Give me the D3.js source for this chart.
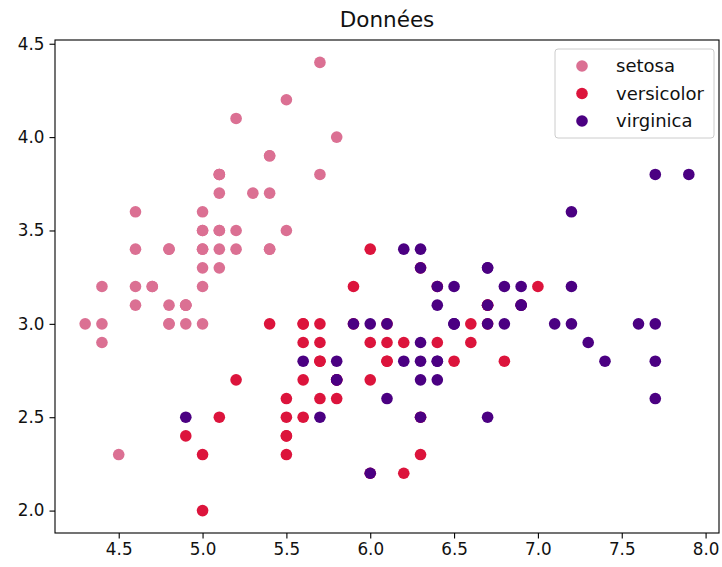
<!DOCTYPE html>
<html>
<head>
<meta charset="utf-8">
<script src="https://cdn.jsdelivr.net/npm/d3@7"></script>
<style>
  body { margin: 0; background: #fff; }
  svg { font-family: "DejaVu Sans", sans-serif; }
  .axis path, .axis line { stroke: #000; stroke-width: 1.1; }
  .axis text { font-size: 16.8px; fill: #111; }
</style>
</head>
<body>
<div id="chart"></div>
<script>
// Iris: sepal length (x) vs sepal width (y)
var species = ["setosa", "versicolor", "virginica"];
var speciesColors = ["#db7093", "#dc143c", "#4b0082"];

var setosaLength = [5.1, 4.9, 4.7, 4.6, 5.0, 5.4, 4.6, 5.0, 4.4, 4.9, 5.4, 4.8, 4.8, 4.3, 5.8, 5.7, 5.4, 5.1, 5.7, 5.1, 5.4, 5.1, 4.6, 5.1, 4.8, 5.0, 5.0, 5.2, 5.2, 4.7, 4.8, 5.4, 5.2, 5.5, 4.9, 5.0, 5.5, 4.9, 4.4, 5.1, 5.0, 4.5, 4.4, 5.0, 5.1, 4.8, 5.1, 4.6, 5.3, 5.0];
var setosaWidth = [3.5, 3.0, 3.2, 3.1, 3.6, 3.9, 3.4, 3.4, 2.9, 3.1, 3.7, 3.4, 3.0, 3.0, 4.0, 4.4, 3.9, 3.5, 3.8, 3.8, 3.4, 3.7, 3.6, 3.3, 3.4, 3.0, 3.4, 3.5, 3.4, 3.2, 3.1, 3.4, 4.1, 4.2, 3.1, 3.2, 3.5, 3.1, 3.0, 3.4, 3.5, 2.3, 3.2, 3.5, 3.8, 3.0, 3.8, 3.2, 3.7, 3.3];

var versicolorLength = [7.0, 6.4, 6.9, 5.5, 6.5, 5.7, 6.3, 4.9, 6.6, 5.2, 5.0, 5.9, 6.0, 6.1, 5.6, 6.7, 5.6, 5.8, 6.2, 5.6, 5.9, 6.1, 6.3, 6.1, 6.4, 6.6, 6.8, 6.7, 6.0, 5.7, 5.5, 5.5, 5.8, 6.0, 5.4, 6.0, 6.7, 6.3, 5.6, 5.5, 5.5, 6.1, 5.8, 5.0, 5.6, 5.7, 5.7, 6.2, 5.1, 5.7];
var versicolorWidth = [3.2, 3.2, 3.1, 2.3, 2.8, 2.8, 3.3, 2.4, 2.9, 2.7, 2.0, 3.0, 2.2, 2.9, 2.9, 3.1, 3.0, 2.7, 2.2, 2.5, 3.2, 2.8, 2.5, 2.8, 2.9, 3.0, 2.8, 3.0, 2.9, 2.6, 2.4, 2.4, 2.7, 2.7, 3.0, 3.4, 3.1, 2.3, 3.0, 2.5, 2.6, 3.0, 2.6, 2.3, 2.7, 3.0, 2.9, 2.9, 2.5, 2.8];

var virginicaLength = [6.3, 5.8, 7.1, 6.3, 6.5, 7.6, 4.9, 7.3, 6.7, 7.2, 6.5, 6.4, 6.8, 5.7, 5.8, 6.4, 6.5, 7.7, 7.7, 6.0, 6.9, 5.6, 7.7, 6.3, 6.7, 7.2, 6.2, 6.1, 6.4, 7.2, 7.4, 7.9, 6.4, 6.3, 6.1, 7.7, 6.3, 6.4, 6.0, 6.9, 6.7, 6.9, 5.8, 6.8, 6.7, 6.7, 6.3, 6.5, 6.2, 5.9];
var virginicaWidth = [3.3, 2.7, 3.0, 2.9, 3.0, 3.0, 2.5, 2.9, 2.5, 3.6, 3.2, 2.7, 3.0, 2.5, 2.8, 3.2, 3.0, 3.8, 2.6, 2.2, 3.2, 2.8, 2.8, 2.7, 3.3, 3.2, 2.8, 3.0, 2.8, 3.0, 2.8, 3.8, 2.8, 2.8, 2.6, 3.0, 3.4, 3.1, 3.0, 3.1, 3.1, 3.1, 2.7, 3.2, 3.3, 3.0, 2.5, 3.0, 3.4, 3.0];

var xTicks = [4.5, 5.0, 5.5, 6.0, 6.5, 7.0, 7.5, 8.0];
var yTicks = [2.0, 2.5, 3.0, 3.5, 4.0, 4.5];
var title = "Données";

var lengths = [setosaLength, versicolorLength, virginicaLength];
var widths = [setosaWidth, versicolorWidth, virginicaWidth];

var width = 722;
var height = 567;
var margins = { top: 40, right: 3, bottom: 34, left: 55 };
var chartWidth = width - margins.left - margins.right;
var chartHeight = height - margins.top - margins.bottom;

var svg = d3.select("#chart")
  .append("svg")
  .attr("width", width)
  .attr("height", height);

var chartElement = svg.append("g")
  .attr("transform", "translate(" + margins.left + "," + margins.top + ")");

var xScale = d3.scaleLinear().domain([4.12, 8.08]).range([0, chartWidth]);
var yScale = d3.scaleLinear().domain([1.88, 4.52]).range([chartHeight, 0]);

// points, one group per species, drawn in order
species.forEach(function (s, k) {
  var pts = lengths[k].map(function (v, i) { return { x: v, y: widths[k][i] }; });
  chartElement.append("g")
    .attr("class", "series " + s)
    .selectAll("circle")
    .data(pts)
    .enter()
    .append("circle")
    .attr("cx", function (d) { return xScale(d.x); })
    .attr("cy", function (d) { return yScale(d.y); })
    .attr("r", 5.8)
    .style("fill", speciesColors[k]);
});

// axes
var xAxis = d3.axisBottom(xScale).tickValues(xTicks).tickFormat(d3.format(".1f")).tickSize(5.5).tickPadding(5);
var yAxis = d3.axisLeft(yScale).tickValues(yTicks).tickFormat(d3.format(".1f")).tickSize(5.5).tickPadding(5);

chartElement.append("g")
  .attr("class", "x axis")
  .attr("transform", "translate(0," + chartHeight + ")")
  .call(xAxis)
  .call(function (g) { g.select(".domain").remove(); });

chartElement.append("g")
  .attr("class", "y axis")
  .call(yAxis)
  .call(function (g) { g.select(".domain").remove(); });

chartElement.selectAll(".axis text").style("font-family", "DejaVu Sans");

// frame
chartElement.append("rect")
  .attr("width", chartWidth)
  .attr("height", chartHeight)
  .attr("fill", "none")
  .attr("stroke", "#000")
  .attr("stroke-width", 1.1);

// title
svg.append("text")
  .attr("x", margins.left + chartWidth / 2)
  .attr("y", 27)
  .attr("text-anchor", "middle")
  .style("font-size", "21.5px")
  .style("fill", "#111")
  .text(title);

// legend
var legend = svg.append("g").attr("transform", "translate(555,49)");
legend.append("rect")
  .attr("width", 159)
  .attr("height", 89)
  .attr("rx", 3)
  .attr("fill", "#fff")
  .attr("fill-opacity", 0.8)
  .attr("stroke", "#ccc");

var items = legend.selectAll(".key-item")
  .data(species)
  .enter()
  .append("g")
  .attr("class", "key-item")
  .attr("transform", function (d, i) { return "translate(0," + (17 + i * 27.5) + ")"; });

items.append("circle")
  .attr("cx", 27)
  .attr("cy", 0)
  .attr("r", 5.8)
  .style("fill", function (d, i) { return speciesColors[i]; });

items.append("text")
  .attr("x", 61)
  .attr("y", 6)
  .style("font-size", "18px")
  .style("fill", "#111")
  .text(function (d) { return d; });
</script>
</body>
</html>
